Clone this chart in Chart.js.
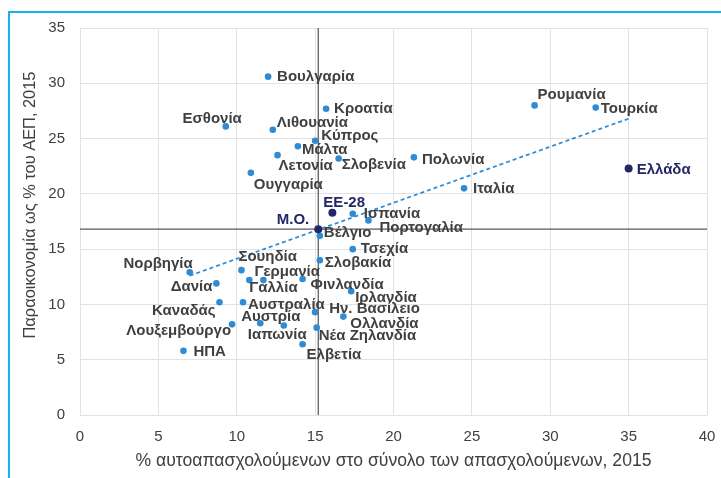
<!DOCTYPE html>
<html lang="el">
<head>
<meta charset="utf-8">
<title>Παραοικονομία και αυτοαπασχόληση, 2015</title>
<script src="https://cdn.jsdelivr.net/npm/chart.js@4.4.1/dist/chart.umd.min.js"></script>
<style>
  html, body { margin: 0; padding: 0; background: #fff; }
  .frame { position: relative; width: 721px; height: 478px; overflow: hidden; }
  .frame::before {
    content: ''; position: absolute; left: 8px; top: 11px; right: 0; bottom: 0;
    border-top: 2px solid #1AB0E8; border-left: 2px solid #1AB0E8;
  }
  canvas { position: absolute; left: 0; top: 0; }
</style>
</head>
<body>
<div class="frame">
  <canvas id="shadowChart" width="721" height="478"></canvas>
</div>
<script>
// countries (blue points)
const countries = [
  'Βουλγαρία', 'Κροατία', 'Εσθονία', 'Λιθουανία', 'Κύπρος', 'Μάλτα', 'Λετονία',
  'Σλοβενία', 'Ουγγαρία', 'Ισπανία', 'Βέλγιο', 'Πορτογαλία', 'Τσεχία', 'Σλοβακία',
  'Σουηδία', 'Νορβηγία', 'Γερμανία', 'Γαλλία', 'Φινλανδία', 'Δανία', 'Ιρλανδία',
  'Καναδάς', 'Αυστραλία', 'Ην. Βασίλειο', 'Ολλανδία', 'Λουξεμβούργο', 'Αυστρία',
  'Ιαπωνία', 'Νέα Ζηλανδία', 'Ελβετία', 'ΗΠΑ', 'Ρουμανία', 'Τουρκία', 'Πολωνία', 'Ιταλία'
];
// % self-employed in total employment, 2015
const selfEmployed = [
  12.0, 15.7, 9.3, 12.3, 15.0, 13.9, 12.6,
  16.5, 10.9, 17.4, 15.3, 18.4, 17.4, 15.3,
  10.3, 7.0, 11.7, 10.8, 14.2, 8.7, 17.3,
  8.9, 10.4, 15.0, 16.8, 9.7, 11.5,
  13.0, 15.1, 14.2, 6.6, 29.0, 32.9, 21.3, 24.5
];
// shadow economy % of GDP, 2015
const shadowEconomy = [
  30.6, 27.7, 26.1, 25.8, 24.8, 24.3, 23.5,
  23.2, 21.9, 18.2, 16.2, 17.6, 15.0, 14.0,
  13.1, 12.9, 12.2, 12.2, 12.3, 11.9, 11.2,
  10.2, 10.2, 9.3, 8.9, 8.2, 8.3,
  8.1, 7.9, 6.4, 5.8, 28.0, 27.8, 23.3, 20.5
];

// highlighted points (navy)
const highlights = ['Ελλάδα', 'ΕΕ-28', 'Μ.Ο.'];
const highlightX = [35.0, 16.1, 15.2];
const highlightY = [22.3, 18.3, 16.8];

// linear trend line end points
const trendX = [7.0, 35.0];
const trendY = [12.6, 26.8];

const xTickValues = [0, 5, 10, 15, 20, 25, 30, 35, 40];
const yTickValues = [0, 5, 10, 15, 20, 25, 30, 35];

const BLUE = '#2E8BD4';
const NAVY = '#222866';
const TEXT = '#404040';
const FONT = '"Liberation Sans", Arial, sans-serif';

// label placement per point: [textAlign, dx, dy] in px from the marker
const labelPlacement = {
  'Βουλγαρία': ['left', 9, 0], 'Κροατία': ['left', 8, 0], 'Εσθονία': ['right', 16, -8],
  'Λιθουανία': ['left', 4, -7], 'Κύπρος': ['left', 6, -5], 'Μάλτα': ['left', 4, 4],
  'Λετονία': ['left', 1, 11], 'Σλοβενία': ['left', 3, 6], 'Ουγγαρία': ['left', 3, 12],
  'ΕΕ-28': ['left', -9, -10], 'Ισπανία': ['left', 11, 0], 'Μ.Ο.': ['right', -9, -9],
  'Βέλγιο': ['left', 4, -3], 'Πορτογαλία': ['left', 11, 7], 'Τσεχία': ['left', 8, 0],
  'Σλοβακία': ['left', 5, 3], 'Σουηδία': ['left', -3, -13], 'Νορβηγία': ['right', 3, -9],
  'Γερμανία': ['left', -9, -8], 'Γαλλία': ['left', 0, 8], 'Φινλανδία': ['left', 8, 6],
  'Δανία': ['right', -4, 3], 'Ιρλανδία': ['left', 4, 7], 'Καναδάς': ['right', -4, 9],
  'Αυστραλία': ['left', 5, 3], 'Ην. Βασίλειο': ['left', 14, -3], 'Ολλανδία': ['left', 7, 7],
  'Λουξεμβούργο': ['right', -1, 7], 'Αυστρία': ['left', -19, -6], 'Ιαπωνία': ['left', -36, 9],
  'Νέα Ζηλανδία': ['left', 2, 8], 'Ελβετία': ['left', 4, 11], 'ΗΠΑ': ['left', 10, 1],
  'Ρουμανία': ['left', 3, -11], 'Τουρκία': ['left', 5, 1], 'Πολωνία': ['left', 8, 2],
  'Ιταλία': ['left', 9, 1], 'Ελλάδα': ['left', 8, 1]
};

const pointLabels = {
  id: 'pointLabels',
  afterDatasetsDraw(chart) {
    const ctx = chart.ctx;
    ctx.save();
    ctx.font = 'bold 15px ' + FONT;
    ctx.textBaseline = 'middle';
    chart.data.datasets.forEach((ds, i) => {
      if (!ds.names) return;
      chart.getDatasetMeta(i).data.forEach((pt, j) => {
        const name = ds.names[j];
        const [align, dx, dy] = labelPlacement[name] || ['left', 8, 0];
        ctx.textAlign = align;
        ctx.fillStyle = ds.labelColor;
        ctx.fillText(name, pt.x + dx, pt.y + dy);
      });
    });
    ctx.restore();
  }
};

// y axis title sits a bit above the plot centre, as in the original
const yTitle = {
  id: 'yTitle',
  afterDraw(chart) {
    const ctx = chart.ctx;
    ctx.save();
    ctx.translate(30, 205);
    ctx.rotate(-Math.PI / 2);
    ctx.font = '16.4px ' + FONT;
    ctx.fillStyle = TEXT;
    ctx.textAlign = 'center';
    ctx.textBaseline = 'middle';
    ctx.fillText('Παραοικονομία ως % του ΑΕΠ, 2015', 0, 0);
    ctx.restore();
  }
};

const toPoints = (xs, ys) => xs.map((x, i) => ({ x: x, y: ys[i] }));
const moX = highlightX[2];
const moY = highlightY[2];

const tickFont = { family: FONT, size: 15 };

new Chart(document.getElementById('shadowChart'), {
  type: 'scatter',
  data: {
    datasets: [
      {
        names: highlights,
        labelColor: NAVY,
        data: toPoints(highlightX, highlightY),
        backgroundColor: NAVY,
        borderWidth: 0,
        pointRadius: 4,
        order: 0
      },
      {
        names: countries,
        labelColor: TEXT,
        data: toPoints(selfEmployed, shadowEconomy),
        backgroundColor: BLUE,
        borderWidth: 0,
        pointRadius: 3.3,
        order: 1
      },
      {
        type: 'line',
        data: toPoints(trendX, trendY),
        borderColor: BLUE,
        borderWidth: 1.75,
        borderDash: [4, 3],
        pointRadius: 0,
        order: 2
      },
      {
        type: 'line',
        data: [{ x: moX, y: 0 }, { x: moX, y: 35 }],
        borderColor: '#595959',
        borderWidth: 1.25,
        pointRadius: 0,
        order: 3
      },
      {
        type: 'line',
        data: [{ x: 0, y: moY }, { x: 40, y: moY }],
        borderColor: '#595959',
        borderWidth: 1.25,
        pointRadius: 0,
        order: 3
      }
    ]
  },
  options: {
    responsive: false,
    animation: false,
    layout: { padding: { left: 0, right: 14, top: 28, bottom: 0 } },
    plugins: { legend: { display: false }, tooltip: { enabled: false } },
    scales: {
      x: {
        type: 'linear',
        min: 0,
        max: 40,
        afterBuildTicks: (scale) => { scale.ticks = xTickValues.map(v => ({ value: v })); },
        afterFit: (scale) => {
          scale.height = 63;
          scale.paddingLeft = 0;
          scale.paddingRight = 0;
        },
        grid: { color: '#E2E2E2', drawTicks: false },
        border: { display: false },
        ticks: { color: TEXT, font: tickFont, padding: 13 },
        title: {
          display: true,
          text: '% αυτοαπασχολούμενων στο σύνολο των απασχολούμενων, 2015',
          color: TEXT,
          font: { family: FONT, size: 17.6 },
          padding: { top: 0, bottom: 6 }
        }
      },
      y: {
        type: 'linear',
        min: 0,
        max: 35,
        afterBuildTicks: (scale) => { scale.ticks = yTickValues.map(v => ({ value: v })); },
        afterFit: (scale) => { scale.width = 80; },
        grid: { color: '#E2E2E2', drawTicks: false },
        border: { display: false },
        ticks: { color: TEXT, font: tickFont, padding: 15 }
      }
    }
  },
  plugins: [pointLabels, yTitle]
});
</script>
</body>
</html>
